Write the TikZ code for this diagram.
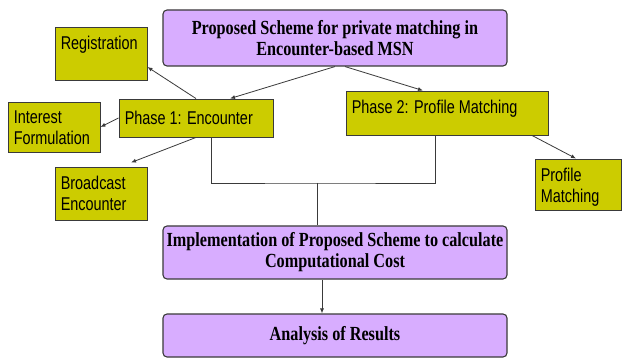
\documentclass[tikz,border=0pt]{standalone}
\usepackage{fontspec}
\setmainfont{Liberation Serif}[FakeStretch=0.81]
\newfontfamily\boxsans{Liberation Sans}[FakeStretch=0.78]
\usetikzlibrary{arrows.meta}
\definecolor{lilac}{HTML}{D8ADFF}
\definecolor{taskfill}{HTML}{CCCC00}
\definecolor{edge}{HTML}{3A3A3A}

\begin{document}
\begin{tikzpicture}[x=1pt,y=-1pt,
  plan/.style={draw=edge, line width=1.1pt, fill=lilac, rounded corners=4pt,
    align=center, inner sep=0pt, font=\fontsize{20}{21}\selectfont\bfseries},
  task/.style={draw=edge, line width=0.9pt, fill=taskfill, inner sep=0pt},
  tasktext/.style={anchor=north west, inner sep=0pt, align=left,
    font=\boxsans\fontsize{18.5}{21}\selectfont, xshift=6pt, yshift=-9pt},
  link/.style={draw=edge, line width=0.8pt},
  arr/.style={link, -{Latex[length=5pt,width=4pt]}}
]
\useasboundingbox[fill=white] (0,0) rectangle (624,358);

% main stages
\node[plan, minimum width=344pt, minimum height=56pt] (top) at (335,38)
  {Proposed Scheme for private matching in\\Encounter-based MSN};
\node[plan, minimum width=344pt, minimum height=53pt] (impl) at (335,252.5)
  {Implementation of Proposed Scheme to calculate\\Computational Cost};
\node[plan, minimum width=344pt, minimum height=43pt] (ana) at (335,335.5)
  {Analysis of Results};

% phases and their steps
\node[task, minimum width=154pt, minimum height=38pt,
  label={[tasktext, yshift=-3pt]north west:Phase 1: Encounter}] (ph1) at (196,118) {};
\node[task, minimum width=202pt, minimum height=44pt,
  label={[tasktext]north west:Phase 2: Profile Matching}] (ph2) at (447,113) {};
\node[task, minimum width=92pt, minimum height=53pt,
  label={[tasktext]north west:Registration}] (reg) at (101,53.5) {};
\node[task, minimum width=92pt, minimum height=50pt,
  label={[tasktext]north west:{Interest\\Formulation}}] (intf) at (54,127) {};
\node[task, minimum width=92pt, minimum height=53pt,
  label={[tasktext]north west:{Broadcast\\Encounter}}] (bc) at (101,193.5) {};
\node[task, minimum width=86pt, minimum height=51pt,
  label={[tasktext]north west:{Profile\\Matching}}] (pm) at (578,184.5) {};

% connectors
\draw[arr] (top.south) -- ([xshift=34pt]ph1.north);
\draw[arr] ([xshift=10pt]top.south) -- ([xshift=-24pt]ph2.north);
\draw[arr] (ph1.north) -- ([yshift=-13.5pt]reg.east);
\draw[arr] (ph1.west) -- (intf.east);
\draw[arr] (ph1.south) -- ([xshift=30pt,yshift=4pt]bc.north);
\draw[arr] ([xshift=85pt]ph2.south) -- ([xshift=-2pt]pm.north);

\coordinate (bus) at (317,183);
\draw[link] ([xshift=15pt]ph1.south) |- (bus) -| ([xshift=-12pt]ph2.south);
\draw[link] (bus) -- (bus |- impl.north);
\draw[arr] ([xshift=-13pt]impl.south) -- ([xshift=-13pt]ana.north);
\end{tikzpicture}
\end{document}
